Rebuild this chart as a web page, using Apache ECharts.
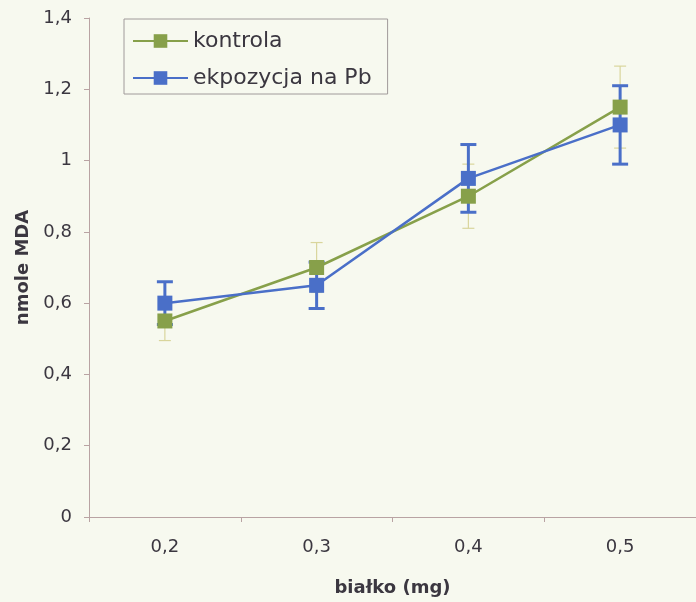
<!DOCTYPE html>
<html>
<head>
<meta charset="utf-8">
<script src="https://cdn.jsdelivr.net/npm/echarts@6/dist/echarts.min.js"></script>
<style>
  html, body { margin: 0; padding: 0; background: #f7f9ef; }
  #chart { width: 696px; height: 602px; }
</style>
</head>
<body>
<div id="chart"></div>
<script>
// Protein amount categories (mg)
const categories = ['0,2', '0,3', '0,4', '0,5'];
// MDA (nmol) means and standard deviations
const kontrola = [0.55, 0.70, 0.90, 1.15];
const kontrolaErr = [0.055, 0.07, 0.09, 0.115];
const ekspozycja = [0.60, 0.65, 0.95, 1.10];
const ekspozycjaErr = [0.06, 0.065, 0.095, 0.11];
const yTicks = [0, 0.2, 0.4, 0.6, 0.8, 1.0, 1.2, 1.4];

const GREEN = '#87a04a';
const BLUE = '#4a6fc8';
const TEXT = '#3b3740';
const AXIS = '#b9a3a3';
const FONT = 'DejaVu Sans';

function errorSeries(name, values, errs, color, width, cap, z) {
  return {
    name: name + ' err',
    type: 'custom',
    z: z,
    silent: true,
    data: values.map((v, i) => [i, v - errs[i], v + errs[i]]),
    renderItem: function (params, api) {
      const x = api.value(0);
      const lo = api.coord([x, api.value(1)]);
      const hi = api.coord([x, api.value(2)]);
      const style = { stroke: color, lineWidth: width, fill: null };
      return {
        type: 'group',
        children: [
          { type: 'line', shape: { x1: lo[0], y1: lo[1], x2: hi[0], y2: hi[1] }, style: style },
          { type: 'line', shape: { x1: lo[0] - cap, y1: lo[1], x2: lo[0] + cap, y2: lo[1] }, style: style },
          { type: 'line', shape: { x1: hi[0] - cap, y1: hi[1], x2: hi[0] + cap, y2: hi[1] }, style: style }
        ]
      };
    }
  };
}

const chart = echarts.init(document.getElementById('chart'));
chart.setOption({
  backgroundColor: '#f7f9ef',
  animation: false,
  grid: { left: 89, right: 0, top: 18, bottom: 84 },
  legend: {
    left: 124, top: 19,
    orient: 'vertical',
    padding: [11, 16, 5, 8],
    itemGap: 15,
    itemWidth: 55, itemHeight: 17,
    borderColor: '#a09a9a', borderWidth: 1,
    textStyle: { fontFamily: FONT, fontSize: 22, color: TEXT },
    data: ['kontrola', 'ekpozycja na Pb']
  },
  xAxis: {
    type: 'category',
    data: categories,
    boundaryGap: true,
    name: 'białko (mg)',
    nameLocation: 'middle',
    nameGap: 62,
    nameTextStyle: { fontFamily: FONT, fontSize: 18, fontWeight: 'bold', color: TEXT },
    axisLine: { lineStyle: { color: AXIS, width: 1 } },
    axisTick: { show: true, length: 5, lineStyle: { color: AXIS } },
    axisLabel: { fontFamily: FONT, fontSize: 18, color: TEXT, margin: 21 },
    splitLine: { show: false }
  },
  yAxis: {
    type: 'value',
    min: 0, max: 1.4, interval: 0.2,
    name: 'nmole MDA',
    nameLocation: 'middle',
    nameGap: 57,
    nameRotate: 90,
    nameTextStyle: { fontFamily: FONT, fontSize: 18, fontWeight: 'bold', color: TEXT },
    axisLine: { show: true, lineStyle: { color: AXIS, width: 1 } },
    axisTick: { show: true, length: 5, lineStyle: { color: AXIS } },
    axisLabel: {
      fontFamily: FONT, fontSize: 18, color: TEXT, margin: 17,
      formatter: function (v) {
        const t = yTicks.find(x => Math.abs(x - v) < 1e-9);
        if (t === undefined) return '';
        return String(t).replace('.', ',');
      }
    },
    splitLine: { show: false }
  },
  series: [
    errorSeries('kontrola', kontrola, kontrolaErr, '#d9d59c', 1.2, 6, 1),
    errorSeries('ekpozycja na Pb', ekspozycja, ekspozycjaErr, BLUE, 3, 8, 2),
    {
      name: 'kontrola', type: 'line', z: 3,
      data: kontrola,
      symbol: 'rect', symbolSize: 15,
      itemStyle: { color: GREEN },
      lineStyle: { color: GREEN, width: 2.5 }
    },
    {
      name: 'ekpozycja na Pb', type: 'line', z: 4,
      data: ekspozycja,
      symbol: 'rect', symbolSize: 15,
      itemStyle: { color: BLUE },
      lineStyle: { color: BLUE, width: 2.5 }
    }
  ]
});
</script>
</body>
</html>
